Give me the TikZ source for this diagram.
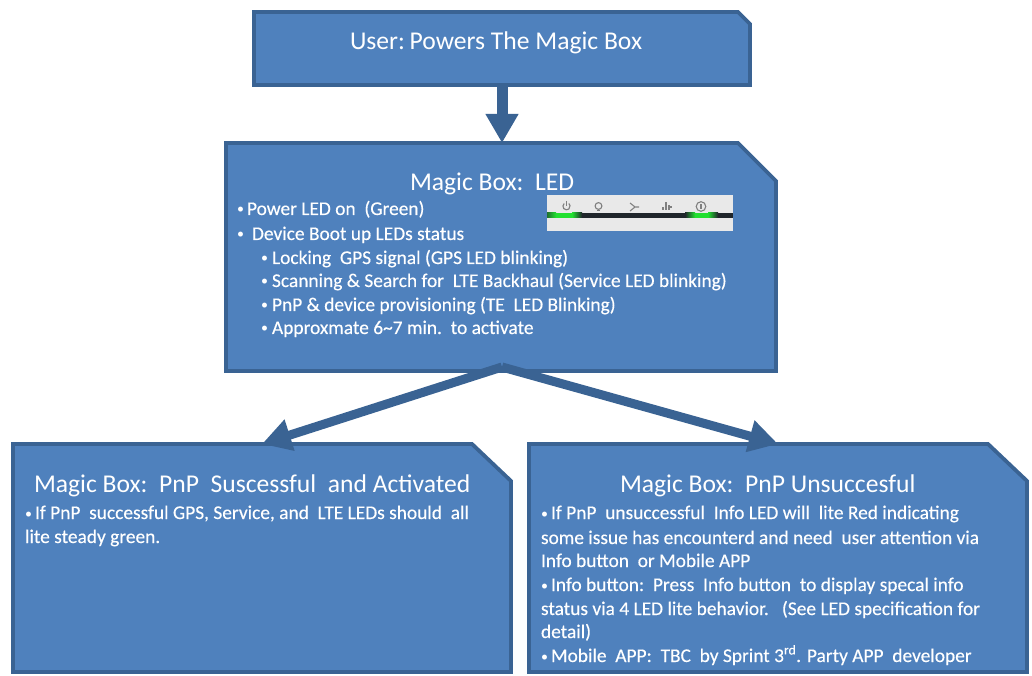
\documentclass[tikz,border=0pt]{standalone}
\usepackage{fontspec}
\setmainfont{Carlito}
\newfontfamily\heavyfont[FakeBold=0.25]{Carlito}
\usetikzlibrary{arrows.meta,calc}
\definecolor{boxfill}{HTML}{4F81BD}
\definecolor{boxline}{HTML}{3A6393}
\definecolor{panelgray}{HTML}{E9E9E9}
\definecolor{icongray}{HTML}{808080}
\definecolor{ledgreen}{HTML}{22E030}
\definecolor{bandblack}{HTML}{20262B}
\tikzset{
  x=1pt,y=1pt,
  anchorbox/.style={rectangle,inner sep=0pt,outer sep=0pt},
  snipped/.style={draw=boxline,fill=boxfill,line width=3.8pt,line join=miter},
  bigarrow/.style={draw=boxline,line width=#1},
  headtip/.style={-{Triangle[width=31pt,length=29pt]}},
  titletext/.style={anchor=base west,inner sep=0pt,outer sep=0pt,text=white,yshift=-0.7pt,font=\fontsize{25.6}{28}\selectfont},
  bodytext/.style={anchor=base west,inner sep=0pt,outer sep=0pt,text=white,yshift=-1pt,font=\heavyfont\fontsize{19.4}{22}\selectfont},
  dottext/.style={anchor=base west,inner sep=0pt,outer sep=0pt,text=white,yshift=-1pt,font=\fontsize{14}{16}\selectfont},
  icon/.style={draw=icongray,line width=1.1pt},
}
\newcommand{\snipbox}[3]{%
  \draw[snipped] (#1.north west) -- ($(#1.north east)+(-#2,0)$) -- ($(#1.north east)+(0,-#3)$) -- (#1.south east) -- (#1.south west) -- cycle;}
\begin{document}
\begin{tikzpicture}
\useasboundingbox (0,0) rectangle (1032,675);
% boxes (y measured upward: 675 - pixel row)
\node[anchorbox,minimum width=496pt,minimum height=73pt] (top) at (502,626.5) {};
\node[anchorbox,minimum width=550pt,minimum height=228pt] (led) at (501,418) {};
\node[anchorbox,minimum width=498pt,minimum height=228pt] (okbox) at (262,117) {};
\node[anchorbox,minimum width=498pt,minimum height=228pt] (failbox) at (778,117) {};
\snipbox{top}{12}{12}
\snipbox{led}{38}{38}
\snipbox{okbox}{39}{37}
\snipbox{failbox}{39}{37}
% connectors
\coordinate (apex) at ($(led.south)+(1,4)$);
\draw[bigarrow=11pt,headtip] (top.south) -- (top.south |- led.north);
\draw[bigarrow=9pt,headtip] (apex) -- (okbox.north);
\draw[bigarrow=9pt,headtip] (apex) -- (failbox.north);
% LED panel
\fill[panelgray] (547,444) rectangle (733,480);
\fill[bandblack] (547,457) rectangle (733,462);
\shade[left color=ledgreen!40!bandblack,right color=ledgreen] (547,457) rectangle (556,462);
\fill[ledgreen] (556,457) rectangle (572,462);
\shade[left color=ledgreen,right color=bandblack] (572,457) rectangle (582,462);
\shade[left color=bandblack,right color=ledgreen] (685,457) rectangle (695,462);
\fill[ledgreen] (695,457) rectangle (708,462);
\shade[left color=ledgreen,right color=bandblack] (708,457) rectangle (718,462);
% icons
\draw[icon] (564.2,471.5) arc[start angle=130,end angle=410,radius=3.6];
\draw[icon] (566.5,474) -- (566.5,468.5);
\draw[icon] (598.5,469) circle[radius=3.4];
\draw[icon,line width=1.6pt] (597,464.5) -- (600,464.5);
\draw[icon] (630,472) -- (635,468) -- (630,464) (635,468) -- (639,468);
\draw[icon] (663,465) -- (663,468) (666,465) -- (666,473) (669,465) -- (669,470) (669,468) -- (672,468);
\draw[icon] (701,468.5) circle[radius=4.8];
\draw[icon] (701,466) -- (701,471);
% texts
\node[titletext] (t0) at (350,626) {User:\hspace{-3pt} Powers The Magic Box};
\node[titletext] (t1) at (410,485) {Magic Box:~~LED};
\node[dottext] (a0) at (237,462) {•};
\node[bodytext] (a1) at (247,461) {Power LED on~~(Green)};
\node[dottext] (b0) at (237,437) {•};
\node[bodytext] (b1) at (252,436) {Device Boot up LEDs status};
\node[dottext] (c0) at (261,413) {•};
\node[bodytext] (c1) at (272,412) {Locking~~GPS signal (GPS LED blinking)};
\node[dottext] (d0) at (261,390) {•};
\node[bodytext] (d1) at (272,389) {Scanning \& Search for~~LTE Backhaul (Service LED blinking)};
\node[dottext] (e0) at (261,366) {•};
\node[bodytext] (e1) at (272,365) {PnP \& device provisioning (TE~~LED Blinking)};
\node[dottext] (f0) at (261,343) {•};
\node[bodytext] (f1) at (272,342) {Approxmate 6\char`\~7 min.~~to activate};
\node[titletext] (t2) at (34,183) {Magic Box:~~PnP~~Suscessful~~and Activated};
\node[dottext] (g0) at (25,158) {•};
\node[bodytext] (g1) at (35,157) {If PnP~~successful GPS, Service, and~~LTE LEDs should~~all};
\node[bodytext] (g2) at (25,133) {lite steady green.};
\node[titletext] (t3) at (620,183) {Magic Box:~~PnP Unsuccesful};
\node[dottext] (h0) at (541,158) {•};
\node[bodytext] (h1) at (551,157) {If PnP~~unsuccessful~~Info LED will~~lite Red indicating};
\node[bodytext] (h2) at (541,132) {some issue has encounterd and need~~user attention via};
\node[bodytext] (h3) at (541,109) {Info button~~or Mobile APP};
\node[dottext] (i0) at (541,86) {•};
\node[bodytext] (i1) at (551,85) {Info button:~~Press~~Info button~~to display specal info};
\node[bodytext] (i2) at (541,61) {status via 4 LED lite behavior.~~~(See LED specification for};
\node[bodytext] (i3) at (541,38) {detail)};
\node[dottext] (j0) at (541,15) {•};
\node[bodytext] (j1) at (551,14) {Mobile~~APP:~~TBC~~by Sprint 3\textsuperscript{rd}. Party APP~~developer};
\end{tikzpicture}
\end{document}
